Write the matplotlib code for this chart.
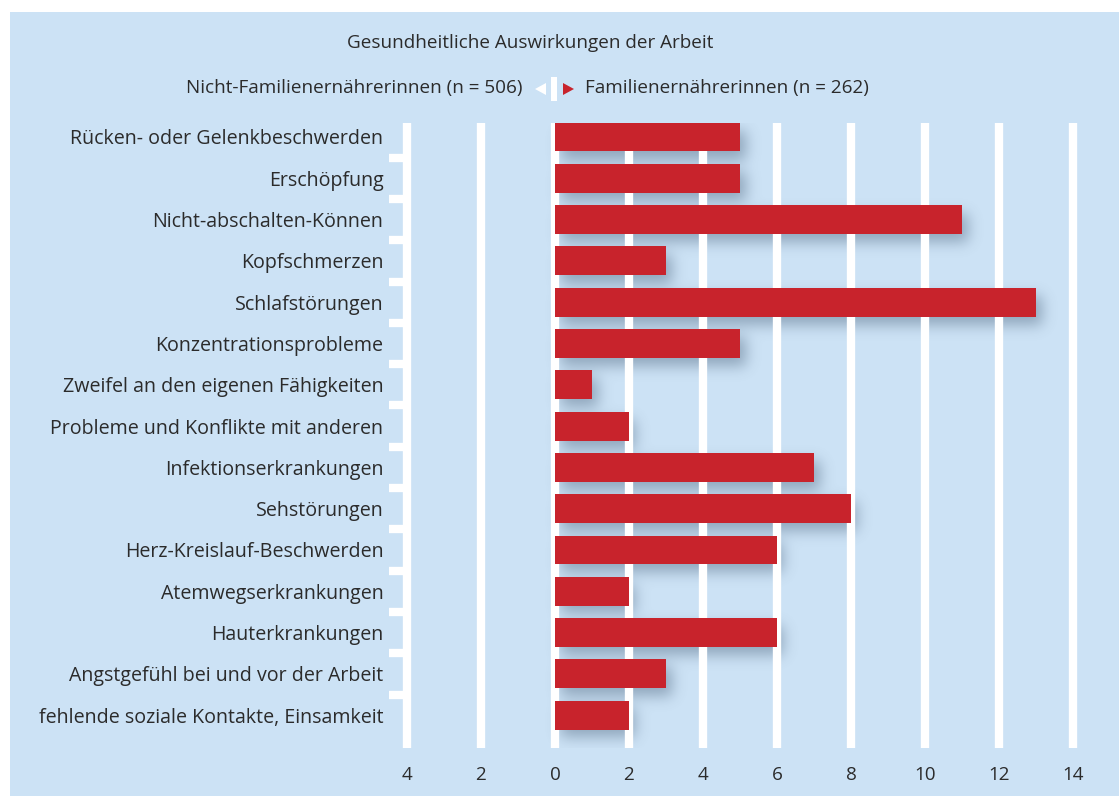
import numpy as np
import matplotlib
matplotlib.use('Agg')
import matplotlib.pyplot as plt
from matplotlib.patches import Rectangle, Polygon

plt.rcParams['font.family'] = ['Open Sans', 'DejaVu Sans']

# Data
categories = [
    'Rücken- oder Gelenkbeschwerden',
    'Erschöpfung',
    'Nicht-abschalten-Können',
    'Kopfschmerzen',
    'Schlafstörungen',
    'Konzentrationsprobleme',
    'Zweifel an den eigenen Fähigkeiten',
    'Probleme und Konflikte mit anderen',
    'Infektionserkrankungen',
    'Sehstörungen',
    'Herz-Kreislauf-Beschwerden',
    'Atemwegserkrankungen',
    'Hauterkrankungen',
    'Angstgefühl bei und vor der Arbeit',
    'fehlende soziale Kontakte, Einsamkeit',
]
familienernaehrerinnen = [5, 5, 11, 3, 13, 5, 1, 2, 7, 8, 6, 2, 6, 3, 2]
x_ticks = [-4, -2, 0, 2, 4, 6, 8, 10, 12, 14]
x_tick_labels = ['4', '2', '0', '2', '4', '6', '8', '10', '12', '14']

title = 'Gesundheitliche Auswirkungen der Arbeit'
legend_left = 'Nicht-Familienernährerinnen (n = 506)'
legend_right = 'Familienernährerinnen (n = 262)'

BG = '#cce2f5'
RED = '#c8232c'
TEXT = '#2b2b2b'
FS = 13.6
FS_CAT = 14.1

W, H = 1119, 796
fig = plt.figure(figsize=(W / 100, H / 100), dpi=100)
fig.patch.set_facecolor('white')

# pixel-space overlay for the panel background and legend
deco = fig.add_axes([0, 0, 1, 1], zorder=0)
deco.set_xlim(0, W)
deco.set_ylim(H, 0)
deco.axis('off')
deco.add_patch(Rectangle((10, 12), W - 10, H - 12, color=BG, lw=0))

deco.text(530, 43, title, ha='center', va='center', fontsize=FS, color=TEXT)
deco.text(522, 88, legend_left, ha='right', va='center', fontsize=FS, color=TEXT)
deco.text(585, 88, legend_right, ha='left', va='center', fontsize=FS, color=TEXT)
deco.add_patch(Polygon([[546, 83], [546, 95], [535, 89]], closed=True, color='white', lw=0))
deco.add_patch(Rectangle((551, 77), 6, 24, color='white', lw=0))
deco.add_patch(Polygon([[563, 83], [563, 95], [574, 89]], closed=True, color=RED, lw=0))

# data axes: 37 px per unit, zero at x=555 px
px_unit = 37.0
ax_left, ax_right = 396, 1085
ax_top, ax_bottom = 123, 748
xlim = ((ax_left - 555) / px_unit, (ax_right - 555) / px_unit)
row_px = 41.3
ylim = ((ax_bottom - 137) / row_px, (ax_top - 137) / row_px)

ax = fig.add_axes([ax_left / W, 1 - ax_bottom / H,
                   (ax_right - ax_left) / W, (ax_bottom - ax_top) / H], zorder=1)
ax.set_facecolor('none')
for s in ax.spines.values():
    s.set_visible(False)

n = len(categories)
idx = np.arange(n)
bar_h = 0.7

# white vertical grid lines
for xt in x_ticks:
    ax.axvline(xt, color='white', lw=6, zorder=2, solid_capstyle='butt')

# bracket ticks on the left axis between rows
ax.hlines(idx[:-1] + 0.5, (389 - 555) / px_unit, -4, color='white', lw=6,
          zorder=2, clip_on=False)

# soft drop shadow under the bars
gw = ax_right - ax_left
gh = ax_bottom - ax_top
xs = np.linspace(xlim[0], xlim[1], gw)
ys = np.linspace(ylim[1], ylim[0], gh)
dx, dy = 6 / px_unit, 8 / row_px
mask = np.zeros((gh, gw))
for i, v in enumerate(familienernaehrerinnen):
    rows = (ys >= i - bar_h / 2 + dy) & (ys <= i + bar_h / 2 + dy)
    cols = (xs >= 0 + dx) & (xs <= v + dx)
    mask[np.ix_(rows, cols)] = 1.0
sigma = 7.0
k = np.arange(-21, 22)
kern = np.exp(-k ** 2 / (2 * sigma ** 2))
kern /= kern.sum()
blur = np.apply_along_axis(lambda r: np.convolve(r, kern, mode='same'), 1, mask)
blur = np.apply_along_axis(lambda c: np.convolve(c, kern, mode='same'), 0, blur)
shadow = np.zeros((gh, gw, 4))
shadow[..., 0] = 60 / 255
shadow[..., 1] = 85 / 255
shadow[..., 2] = 110 / 255
shadow[..., 3] = blur * 0.42
ax.imshow(shadow, extent=(xlim[0], xlim[1], ylim[0], ylim[1]), origin='upper',
          aspect='auto', zorder=1, interpolation='bilinear')

ax.barh(idx, familienernaehrerinnen, height=bar_h, color=RED, zorder=3)

ax.set_xlim(*xlim)
ax.set_ylim(*ylim)
ax.set_yticks(idx)
ax.set_yticklabels(categories, fontsize=FS_CAT, color=TEXT)
ax.set_xticks(x_ticks)
ax.set_xticklabels(x_tick_labels, fontsize=FS, color=TEXT)
ax.tick_params(axis='y', length=0, pad=9)
ax.tick_params(axis='x', length=0, pad=13)

fig.savefig('out.png', dpi=100, facecolor=fig.get_facecolor())
